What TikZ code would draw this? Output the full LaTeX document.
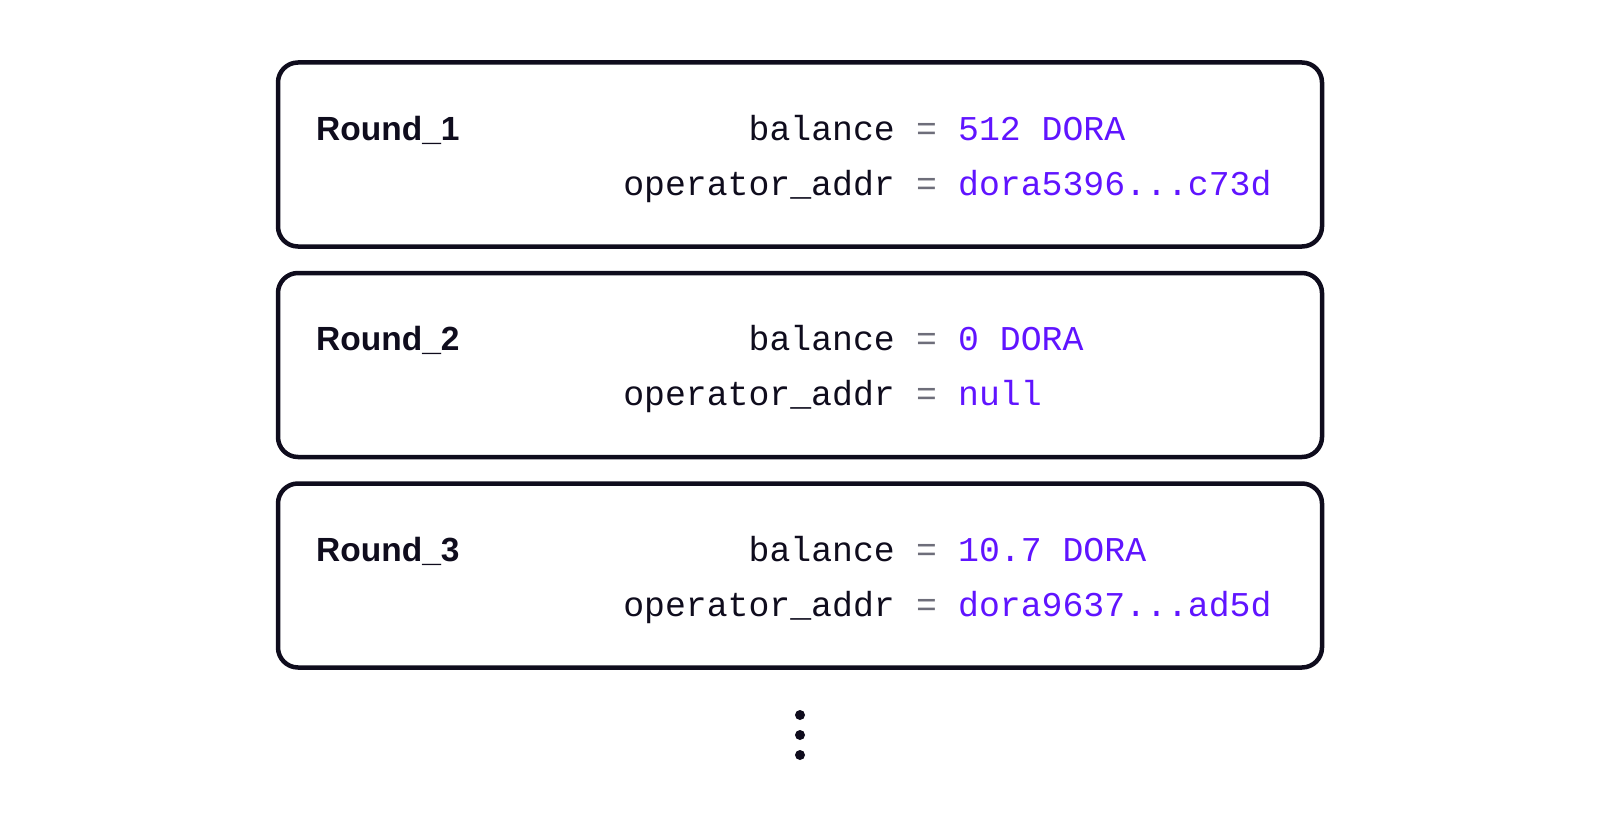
\documentclass[tikz,border=0pt]{standalone}
\usepackage{fontspec}
\setmonofont{Liberation Mono}
\newfontfamily\labelfont{Liberation Sans}
\definecolor{ink}{HTML}{0F0C1D}
\definecolor{val}{HTML}{6014FF}
\definecolor{eqgray}{HTML}{6E6E7A}
\newcommand\tripledot{...}
\tikzset{
  roundbox/.style={draw=ink, line width=4.5pt, rounded corners=20pt, minimum width=1044pt, minimum height=184pt, inner sep=0pt},
  roundlabel/.style={anchor=base west, inner sep=0pt, text=ink, font=\labelfont\bfseries\fontsize{33.5}{40}\selectfont},
  keytext/.style={anchor=base east, inner sep=0pt, text=ink, font=\ttfamily\fontsize{34.8}{40}\selectfont},
  eqtext/.style={anchor=base, inner sep=0pt, text=eqgray, font=\ttfamily\fontsize{34.8}{40}\selectfont},
  valtext/.style={anchor=base west, inner sep=0pt, text=val, font=\ttfamily\fontsize{34.8}{40}\selectfont},
  dot/.style={circle, fill=ink, minimum size=10pt, inner sep=0pt}
}
\begin{document}
\begin{tikzpicture}[x=1pt, y=-1pt]
\useasboundingbox (0,0) rectangle (1600,840);
\foreach \i/\v/\w [count=\k from 0] in {1/{512 DORA}/{dora5396\tripledot c73d}, 2/{0 DORA}/{null}, 3/{10.7 DORA}/{dora9637\tripledot ad5d}} {
  \pgfmathsetmacro{\dy}{210.5*\k}
  \node[roundbox] (box\i) at (800, 154.5+\dy) {};
  \node[roundlabel] (round\i) at (316, 140+\dy) {Round\_\i};
  \node[keytext] (bkey\i) at (895, 140+\dy) {balance};
  \node[eqtext] (beq\i) at (926.5, 140+\dy) {=};
  \node[valtext] (bval\i) at (958, 140+\dy) {\v};
  \node[keytext] (okey\i) at (895, 195+\dy) {operator\_addr};
  \node[eqtext] (oeq\i) at (926.5, 195+\dy) {=};
  \node[valtext] (oval\i) at (958, 195+\dy) {\w};
}
\node[dot] (dot1) at (800, 715) {};
\node[dot] (dot2) at (800, 735) {};
\node[dot] (dot3) at (800, 755) {};
\end{tikzpicture}
\end{document}
